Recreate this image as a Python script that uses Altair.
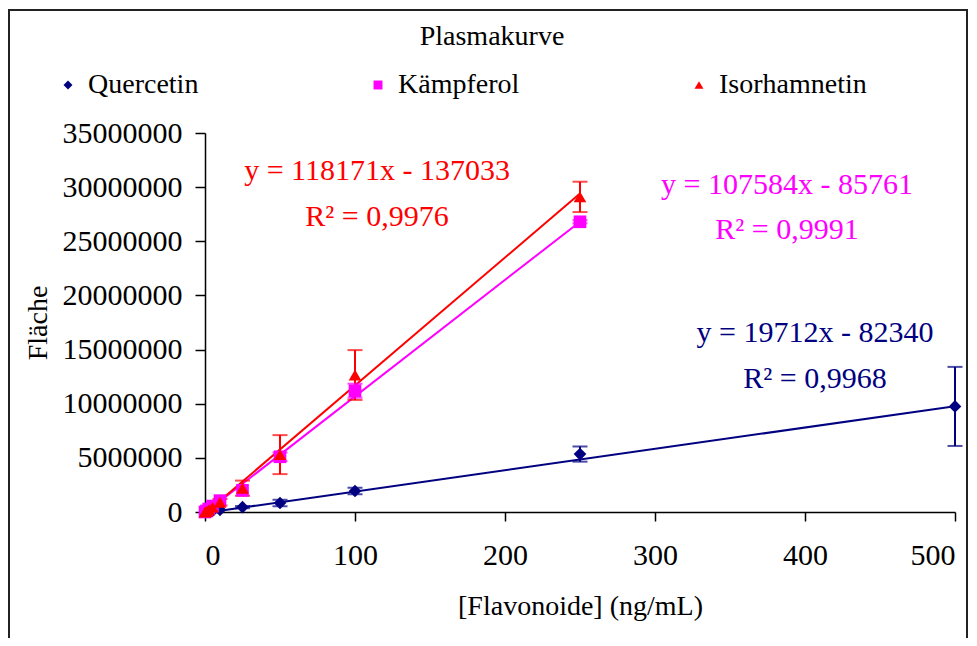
import altair as alt
import pandas as pd

series = ["Quercetin", "Kämpferol", "Isorhamnetin"]
colors = ["#000080", "#FF00FF", "#FF0000"]
shapes = ["diamond", "square", "triangle-up"]

# concentrations (ng/mL)
conc_q = [0, 2.5, 5, 10, 25, 50, 100, 250, 500]
conc_k = [0, 1, 2.5, 5, 10, 25, 50, 100, 250]
conc_i = [0, 1, 2.5, 5, 10, 25, 50, 100, 250]

# peak areas (means)
area_q = [0, 50000, 100000, 200000, 450000, 830000, 1940000, 5350000, 9750000]
area_k = [0, 100000, 280000, 550000, 1050000, 2000000, 5100000, 11200000, 26800000]
area_i = [0, 50000, 200000, 450000, 900000, 2200000, 5300000, 12650000, 29100000]

# standard deviations
err_q = [0, 0, 0, 0, 100000, 300000, 300000, 700000, 3650000]
err_k = [0, 0, 0, 0, 0, 0, 400000, 650000, 150000]
err_i = [0, 0, 0, 0, 300000, 700000, 1800000, 2300000, 1400000]

# trendlines
slopes = [19712, 107584, 118171]
intercepts = [-82340, -85761, -137033]
r2_text = ["0,9968", "0,9991", "0,9976"]
x_max = [500, 250, 250]

# annotation anchor points (data units)
eq_x = [406.7, 388, 114.7]
eq_y = [16530000, 30200000, 31490000]
r2_y = [12280000, 26040000, 27240000]

x_ticks = [0, 100, 200, 300, 400, 500]
y_ticks = [0, 5000000, 10000000, 15000000, 20000000, 25000000, 30000000, 35000000]

FONT = "Liberation Serif"

rows = []
for name, cs, ys, es in zip(series, [conc_q, conc_k, conc_i], [area_q, area_k, area_i], [err_q, err_k, err_i]):
    for c, y, e in zip(cs, ys, es):
        rows.append({"series": name, "conc": c, "area": y, "lo": y - e, "hi": y + e, "err": e})
df = pd.DataFrame(rows)
df_err = df[df["err"] > 0]

line_rows = []
for name, m, b, xm in zip(series, slopes, intercepts, x_max):
    for xv in [0, xm]:
        line_rows.append({"series": name, "conc": xv, "area": m * xv + b})
df_line = pd.DataFrame(line_rows)

ann_rows = []
for name, m, b, r, ex, ey, ry in zip(series, slopes, intercepts, r2_text, eq_x, eq_y, r2_y):
    ann_rows.append({"series": name, "conc": ex, "area": ey, "label": f"y = {m}x - {abs(b)}"})
    ann_rows.append({"series": name, "conc": ex, "area": ry, "label": f"R² = {r}"})
df_ann = pd.DataFrame(ann_rows)

color_scale = alt.Scale(domain=series, range=colors)
shape_scale = alt.Scale(domain=series, range=shapes)

x_enc = alt.X(
    "conc:Q",
    scale=alt.Scale(domain=[0, 500], nice=False),
    axis=alt.Axis(
        values=x_ticks, format="d", title="[Flavonoide] (ng/mL)", grid=False,
        tickSize=9, labelPadding=19, titlePadding=22, labelFontSize=30,
    ),
)
y_enc = alt.Y(
    "area:Q",
    scale=alt.Scale(domain=[0, 35000000], nice=False),
    axis=alt.Axis(
        values=y_ticks, format="d", title="Fläche", grid=False,
        tickSize=10, labelPadding=13, titlePadding=10, labelFontSize=30,
    ),
)

lines = alt.Chart(df_line).mark_line(strokeWidth=2, clip=True).encode(
    x=x_enc, y=y_enc,
    color=alt.Color("series:N", scale=color_scale, legend=None),
    detail="series:N",
)

rules = alt.Chart(df_err).mark_rule(strokeWidth=2).encode(
    x="conc:Q", y="lo:Q", y2="hi:Q",
    color=alt.Color("series:N", scale=color_scale, legend=None),
)
caps_hi = alt.Chart(df_err).mark_tick(orient="horizontal", thickness=2, size=15).encode(
    x="conc:Q", y="hi:Q",
    color=alt.Color("series:N", scale=color_scale, legend=None),
)
caps_lo = alt.Chart(df_err).mark_tick(orient="horizontal", thickness=2, size=15).encode(
    x="conc:Q", y="lo:Q",
    color=alt.Color("series:N", scale=color_scale, legend=None),
)

legend = alt.Legend(
    title=None, orient="none", direction="horizontal", columns=3,
    legendX=-151, legendY=-62, padding=0, columnPadding=165,
    labelFont=FONT, labelFontSize=28, labelColor="black", labelOffset=6,
    symbolSize=80, symbolStrokeWidth=0, labelLimit=400,
)

points = alt.Chart(df).mark_point(filled=True, size=160, opacity=1).encode(
    x="conc:Q", y="area:Q",
    color=alt.Color("series:N", scale=color_scale, legend=legend),
    shape=alt.Shape("series:N", scale=shape_scale, legend=legend),
)

ann = alt.Chart(df_ann).mark_text(font=FONT, fontSize=30, align="center", baseline="middle").encode(
    x="conc:Q", y="area:Q", text="label:N",
    color=alt.Color("series:N", scale=color_scale, legend=None),
)

frame = alt.Chart(pd.DataFrame({"a": [0]})).mark_rect(
    fill=None, fillOpacity=0, stroke="#222222", strokeWidth=2
).encode(
    x=alt.value(-196), x2=alt.value(762), y=alt.value(-123), y2=alt.value(560),
)

chart = alt.layer(frame, lines, rules, caps_hi, caps_lo, points, ann).resolve_legend(
    color="independent", shape="independent"
).properties(
    width=750, height=379,
    padding={"left": 197, "top": 125, "right": 14, "bottom": 126},
    autosize=alt.AutoSizeParams(type="none"),
    title=alt.TitleParams(
        "Plasmakurve", font=FONT, fontSize=28, fontWeight="normal", color="black",
        anchor="middle", frame="group", dx=-88, offset=-42,
    ),
).configure_view(stroke=None).configure_axis(
    labelFont=FONT, labelFontSize=28, labelColor="black",
    titleFont=FONT, titleFontSize=28, titleFontWeight="normal", titleColor="black",
    domainColor="black", tickColor="black", domainWidth=1.5, tickWidth=1.5,
).configure_legend(
    labelFont=FONT, labelFontSize=28, labelColor="black", labelOffset=6,
    symbolSize=80, columnPadding=165, labelLimit=400,
)

chart.save("out.html", embed_options={"renderer": "svg", "actions": False})
